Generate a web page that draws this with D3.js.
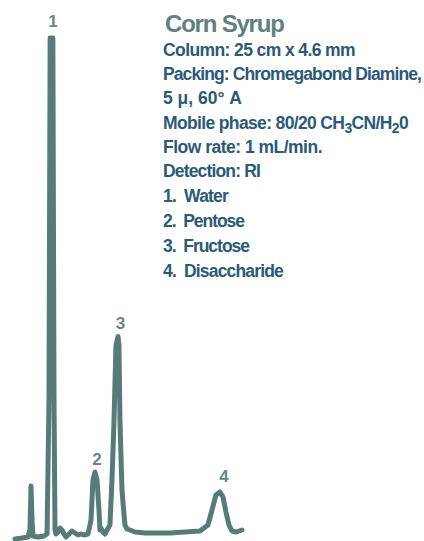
<!DOCTYPE html>
<html>
<head>
<meta charset="utf-8">
<script src="https://cdn.jsdelivr.net/npm/d3@7"></script>
<style>
html,body{margin:0;padding:0;background:#fff;}
svg{display:block;}
</style>
</head>
<body>
<svg id="chart" width="424" height="541"></svg>
<script>
// Retention time (arbitrary minutes) and detector signal (% of peak 1)
const time = [0,0.72,1.34,1.54,1.65,1.75,1.85,2.37,2.99,3.30,3.50,3.62,3.90,4.02,4.12,4.22,4.43,4.63,4.84,5.05,5.25,5.56,5.87,6.18,6.49,6.80,7.11,7.52,7.83,8.03,8.24,8.45,8.65,8.75,8.86,9.06,9.27,9.48,9.78,9.99,10.20,10.40,10.61,10.71,10.81,11.02,11.23,11.33,11.54,11.84,12.36,13.39,15.96,19.06,19.88,20.29,20.70,21.11,21.42,21.73,22.04,22.35,22.76,23.38,24];
const signal = [-0.2,0,0.2,1.6,10.4,3.6,0.4,0.2,0.4,0.8,27.5,100,100,27.5,1.6,0.8,1.2,2.0,1.6,0.8,0.2,0.8,1.4,1.0,0.6,0.8,0.6,0.8,3.6,11.6,13.2,11.6,5.6,1.6,2.0,1.2,0.8,1.6,2.6,11.6,23.6,38.5,40.3,38.5,23.6,9.6,4.6,2.6,1.8,1.6,1.2,1.0,1.0,1.4,2.6,5.6,8.6,9.2,8.2,5.2,2.6,1.4,1.2,1.6];
const peakLabels = ["1","2","3","4"];
const peakTimes = [3.76,8.45,10.71,21.42];
const peakHeights = [100,13.2,40.3,9.2];
const title = "Corn Syrup";
// "_" marks a subscript character
const infoLines = [
  "Column: 25 cm x 4.6 mm",
  "Packing: Chromegabond Diamine,",
  "5 μ, 60° A",
  "Mobile phase: 80/20 CH_3CN/H_20",
  "Flow rate: 1 mL/min.",
  "Detection: RI",
  "1.  Water",
  "2.  Pentose",
  "3.  Fructose",
  "4.  Disaccharide"
];

// layout (style) constants
const infoBaselines = [56,80,104,129,153,177,202,227,252,277];
const infoWidths = [192,258,79,245,159,97,65,81,86,120];

const svg = d3.select("#chart");
const x = d3.scaleLinear().domain([0,24]).range([15,248]);
const y = d3.scaleLinear().domain([0,100]).range([538,38]);

const lineColor = "#577b79";
const line = d3.line().x((d,i)=>x(time[i])).y(d=>y(d));

svg.append("path")
  .datum(signal)
  .attr("d", line)
  .attr("fill","none")
  .attr("stroke", lineColor)
  .attr("stroke-width", 5)
  .attr("stroke-linejoin","round")
  .attr("stroke-linecap","round");

const labOff = [11,7,8,10];
const labDx = [1.5,0,1.5,1];
svg.selectAll("text.peak").data(peakLabels).enter().append("text")
  .attr("class","peak")
  .attr("x",(d,i)=>x(peakTimes[i]) + labDx[i])
  .attr("y",(d,i)=>y(peakHeights[i]) - labOff[i])
  .attr("text-anchor","middle")
  .attr("font-family","Liberation Sans, Arial, sans-serif")
  .attr("font-weight","bold")
  .attr("font-size",17)
  .attr("fill","#668785")
  .text(d=>d);

svg.append("text")
  .attr("x",165).attr("y",32)
  .attr("font-family","Liberation Sans, Arial, sans-serif")
  .attr("font-weight","bold")
  .attr("font-size",24)
  .attr("letter-spacing",-1.2)
  .attr("fill","#5f807d")
  .text(title);

svg.selectAll("text.info").data(infoLines).enter().append("text")
  .attr("class","info")
  .attr("x",163)
  .attr("y",(d,i)=>infoBaselines[i])
  .attr("font-family","Liberation Sans, Arial, sans-serif")
  .attr("font-weight","bold")
  .attr("font-size",17.5)
  .attr("fill","#2b5a79")
  .style("white-space","pre")
  .each(function(d,i){
    const t = d3.select(this);
    const parts = d.split(/(_.)/).filter(p=>p);
    let cur = 0;
    let n = 0;
    parts.forEach(p=>{
      const sub = p[0]==="_";
      const txt = sub ? p[1] : p;
      const target = sub ? 4 : 0;
      const ts = t.append("tspan").attr("dy", target-cur).text(txt);
      if(sub) ts.attr("font-size",14);
      cur = target; n += txt.length;
    });
    const natural = this.getComputedTextLength();
    const ls = (infoWidths[i] - natural) / n;
    t.attr("letter-spacing", ls);
  });
</script>
</body>
</html>
